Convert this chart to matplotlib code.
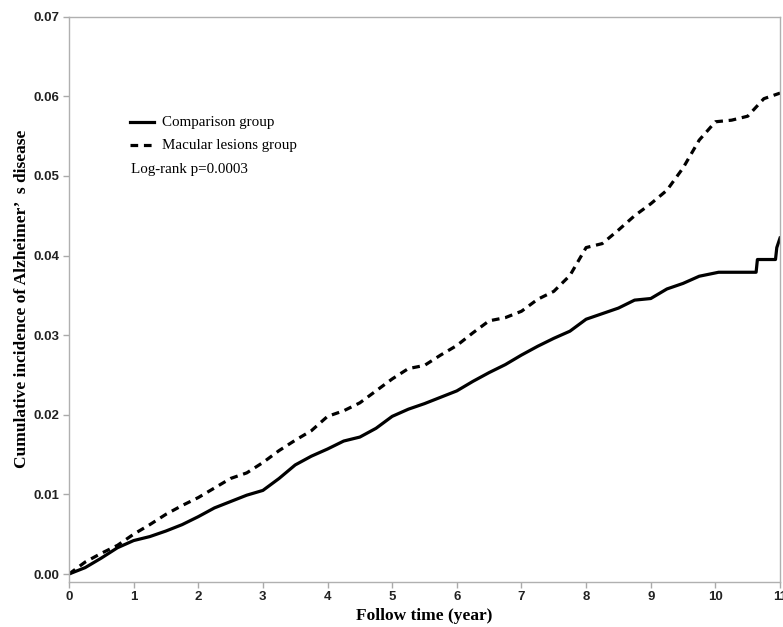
import matplotlib; matplotlib.use('Agg')
import matplotlib.pyplot as plt
import numpy as np

# follow time (year) and cumulative incidence
t_comp = [0.0, 0.25, 0.5, 0.75, 1.0, 1.25, 1.5, 1.75, 2.0, 2.25, 2.5, 2.75, 3.0, 3.25, 3.5, 3.75,
          4.0, 4.25, 4.5, 4.75, 5.0, 5.25, 5.5, 5.75, 6.0, 6.25, 6.5, 6.75, 7.0, 7.25, 7.5, 7.75,
          8.0, 8.25, 8.5, 8.75, 9.0, 9.25, 9.5, 9.75, 10.05, 10.63, 10.65, 10.93, 10.95, 11.0]
y_comp = [0.0, 0.0008, 0.0020, 0.0033, 0.0042, 0.0047, 0.0054, 0.0062, 0.0072, 0.0083, 0.0091, 0.0099,
          0.0105, 0.0120, 0.0137, 0.0148, 0.0157, 0.0167, 0.0172, 0.0183, 0.0198, 0.0207, 0.0214, 0.0222,
          0.0230, 0.0242, 0.0253, 0.0263, 0.0275, 0.0286, 0.0296, 0.0305, 0.0320, 0.0327, 0.0334, 0.0344,
          0.0346, 0.0358, 0.0365, 0.0374, 0.0379, 0.0379, 0.0395, 0.0395, 0.0410, 0.0422]
t_mac = [0.0, 0.25, 0.5, 0.75, 1.0, 1.25, 1.5, 1.75, 2.0, 2.25, 2.5, 2.75, 3.0, 3.25, 3.5, 3.75,
         4.0, 4.25, 4.5, 4.75, 5.0, 5.25, 5.5, 5.75, 6.0, 6.25, 6.5, 6.75, 7.0, 7.25, 7.5, 7.75,
         8.0, 8.25, 8.5, 8.75, 9.0, 9.25, 9.5, 9.75, 10.0, 10.25, 10.5, 10.75, 11.0]
y_mac = [0.0, 0.0015, 0.0026, 0.0036, 0.0050, 0.0062, 0.0075, 0.0086, 0.0096, 0.0108, 0.0120, 0.0127,
         0.0140, 0.0155, 0.0168, 0.0180, 0.0198, 0.0205, 0.0215, 0.0230, 0.0245, 0.0258, 0.0262, 0.0275,
         0.0287, 0.0303, 0.0318, 0.0322, 0.0330, 0.0345, 0.0355, 0.0375, 0.0410, 0.0415, 0.0432, 0.0450,
         0.0465, 0.0482, 0.0510, 0.0545, 0.0568, 0.0570, 0.0575, 0.0597, 0.0604]
xticks = list(range(0, 12))
yticks = [0.00, 0.01, 0.02, 0.03, 0.04, 0.05, 0.06, 0.07]

fig = plt.figure(figsize=(7.83, 6.27), dpi=100)
ax = fig.add_axes([0.0881, 0.0722, 0.9081, 0.9012])

ax.plot(t_comp, y_comp, color='black', lw=2.3)
ax.plot(t_mac, y_mac, color='black', lw=2.3, dashes=(2.4, 1.8))

ax.set_xlim(0, 11)
ax.set_ylim(-0.00097, 0.07)
ax.set_xticks(xticks)
ax.set_yticks(yticks)
ax.set_yticklabels([f'{v:.2f}' for v in yticks])
for lab in ax.get_xticklabels() + ax.get_yticklabels():
    lab.set_fontfamily('Liberation Sans'); lab.set_fontweight('bold'); lab.set_fontsize(9.5)
    lab.set_color('#222222')
ax.tick_params(direction='out', length=4, width=1, color='#aaaaaa', pad=3)
for s in ax.spines.values():
    s.set_color('#b0b0b0'); s.set_linewidth(1)

ax.set_xlabel('Follow time (year)', family='Liberation Serif', fontweight='bold', fontsize=12.5, labelpad=3)
ax.set_ylabel('Cumulative incidence of Alzheimer\u2019  s disease', family='Liberation Serif',
              fontweight='bold', fontsize=12.5, labelpad=2)

# legend drawn by hand
tr = ax.transAxes
ax.plot([0.0858, 0.1195], [0.8136, 0.8136], transform=tr, color='black', lw=2.3)
ax.plot([0.0858, 0.1195], [0.7729, 0.7729], transform=tr, color='black', lw=2.3, dashes=(2.4, 1.8))
ax.text(0.1308, 0.8136, 'Comparison group', transform=tr, va='center', family='Liberation Serif', fontsize=10.8)
ax.text(0.1308, 0.7729, 'Macular lesions group', transform=tr, va='center', family='Liberation Serif', fontsize=10.8)
ax.text(0.0872, 0.7287, 'Log-rank p=0.0003', transform=tr, va='center', family='Liberation Serif', fontsize=10.8)

plt.savefig('out.png', dpi=100)
